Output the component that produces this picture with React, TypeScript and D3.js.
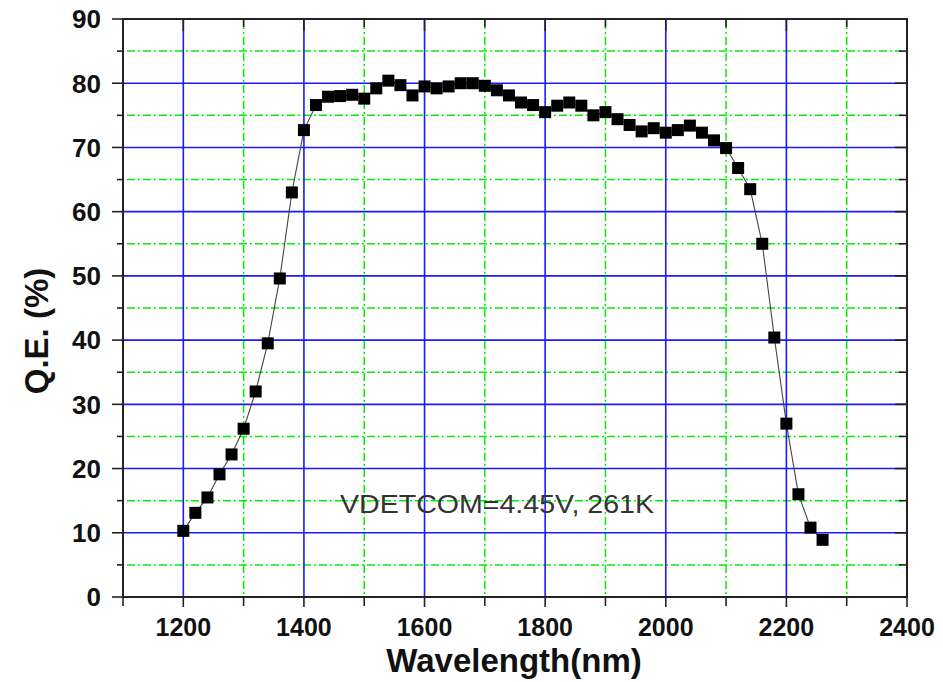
import React, { useEffect, useRef } from 'react';
import * as d3 from 'd3';

// wavelength (nm), every 20 nm
const wavelengths = [
  1200, 1220, 1240, 1260, 1280, 1300, 1320, 1340, 1360, 1380, 1400, 1420, 1440, 1460, 1480,
  1500, 1520, 1540, 1560, 1580, 1600, 1620, 1640, 1660, 1680, 1700, 1720, 1740, 1760, 1780,
  1800, 1820, 1840, 1860, 1880, 1900, 1920, 1940, 1960, 1980, 2000, 2020, 2040, 2060, 2080,
  2100, 2120, 2140, 2160, 2180, 2200, 2220, 2240, 2260,
];

// quantum efficiency (%)
const qe = [
  10.3, 13.1, 15.5, 19.1, 22.2, 26.2, 32.0, 39.5, 49.6, 63.0, 72.7, 76.6, 77.9, 78.0, 78.2,
  77.6, 79.2, 80.4, 79.7, 78.1, 79.5, 79.2, 79.5, 80.0, 80.0, 79.6, 78.9, 78.1, 77.0, 76.6,
  75.5, 76.5, 77.0, 76.5, 75.0, 75.5, 74.4, 73.5, 72.5, 73.0, 72.3, 72.7, 73.4, 72.3, 71.1,
  69.9, 66.8, 63.5, 55.0, 40.4, 27.0, 16.0, 10.8, 8.9,
];

const xMajor = [1200, 1400, 1600, 1800, 2000, 2200];
const xMinor = [1300, 1500, 1700, 1900, 2100, 2300];
const xTickLabels = [1200, 1400, 1600, 1800, 2000, 2200, 2400];
const yMajor = [10, 20, 30, 40, 50, 60, 70, 80];
const yMinor = [5, 15, 25, 35, 45, 55, 65, 75, 85];
const yTickLabels = [0, 10, 20, 30, 40, 50, 60, 70, 80, 90];

const note = 'VDETCOM=4.45V, 261K';

const W = 943;
const H = 682;

const App: React.FC = () => {
  const svgRef = useRef<SVGSVGElement>(null);

  useEffect(() => {
    if (!svgRef.current) return;
    const svg = d3.select(svgRef.current);
    svg.selectAll('*').remove();

    const left = 123, right = 907, top = 19, bottom = 597;
    const x = d3.scaleLinear().domain([1100, 2400]).range([left, right]);
    const y = d3.scaleLinear().domain([0, 90]).range([bottom, top]);
    const font = '"Liberation Sans", Arial, sans-serif';

    svg.append('rect').attr('width', W).attr('height', H).attr('fill', '#fff');

    const grid = svg.append('g');
    // green dash-dot minor grid
    grid.selectAll('.gx').data(xMinor).enter().append('line')
      .attr('x1', d => x(d)).attr('x2', d => x(d))
      .attr('y1', top + 2).attr('y2', bottom - 1)
      .attr('stroke', '#00f000').attr('stroke-width', 1.5)
      .attr('stroke-dasharray', '8,3,2,3');
    grid.selectAll('.gy').data(yMinor).enter().append('line')
      .attr('x1', left + 4).attr('x2', right - 2)
      .attr('y1', d => y(d)).attr('y2', d => y(d))
      .attr('stroke', '#00f000').attr('stroke-width', 1.5)
      .attr('stroke-dasharray', '8,3,2,3');
    // blue major grid
    grid.selectAll('.bx').data(xMajor).enter().append('line')
      .attr('x1', d => x(d)).attr('x2', d => x(d))
      .attr('y1', top + 1).attr('y2', bottom - 1)
      .attr('stroke', '#1a1aff').attr('stroke-width', 1.6);
    grid.selectAll('.by').data(yMajor).enter().append('line')
      .attr('x1', left + 1).attr('x2', right - 1)
      .attr('y1', d => y(d)).attr('y2', d => y(d))
      .attr('stroke', '#1a1aff').attr('stroke-width', 1.6);

    // ticks: out on left/bottom, in on top/right
    const axisColor = '#222';
    const ticks = svg.append('g').attr('stroke', axisColor).attr('stroke-width', 1.6);
    const allX = [1100, ...xMajor, ...xMinor, 2400];
    allX.forEach(v => {
      const major = v % 200 === 0;
      ticks.append('line').attr('x1', x(v)).attr('x2', x(v))
        .attr('y1', bottom).attr('y2', bottom + (major ? 10 : 9));
      ticks.append('line').attr('x1', x(v)).attr('x2', x(v))
        .attr('y1', top).attr('y2', top + (major ? 12 : 8));
    });
    const allY = [0, ...yMajor, ...yMinor, 90];
    allY.forEach(v => {
      const major = v % 10 === 0;
      ticks.append('line').attr('x1', left - (major ? 11 : 6)).attr('x2', left)
        .attr('y1', y(v)).attr('y2', y(v));
      ticks.append('line').attr('x1', right - (major ? 12 : 8)).attr('x2', right)
        .attr('y1', y(v)).attr('y2', y(v));
    });

    // frame
    svg.append('rect')
      .attr('x', left).attr('y', top)
      .attr('width', right - left).attr('height', bottom - top)
      .attr('fill', 'none').attr('stroke', axisColor).attr('stroke-width', 2);

    // data line + square markers
    const line = d3.line<number>()
      .x((_d, i) => x(wavelengths[i]))
      .y(d => y(d));
    svg.append('path').datum(qe)
      .attr('d', line)
      .attr('fill', 'none').attr('stroke', '#444').attr('stroke-width', 1.1);

    const ms = 12;
    svg.selectAll('.pt').data(qe).enter().append('rect')
      .attr('x', (_d, i) => x(wavelengths[i]) - ms / 2)
      .attr('y', d => y(d) - ms / 2)
      .attr('width', ms).attr('height', ms)
      .attr('fill', '#000');

    // tick labels
    svg.selectAll('.xl').data(xTickLabels).enter().append('text')
      .attr('x', d => x(d)).attr('y', 636)
      .attr('text-anchor', 'middle')
      .style('font-family', font).style('font-weight', 'bold').style('font-size', '25px')
      .style('fill', '#111')
      .text(d => d);
    svg.selectAll('.yl').data(yTickLabels).enter().append('text')
      .attr('x', 101).attr('y', d => y(d)).attr('dy', '0.36em')
      .attr('text-anchor', 'end')
      .style('font-family', font).style('font-weight', 'bold').style('font-size', '26px')
      .style('fill', '#111')
      .text(d => d);

    // axis titles
    svg.append('text')
      .attr('x', 514).attr('y', 672)
      .attr('text-anchor', 'middle')
      .style('font-family', font).style('font-weight', 'bold').style('font-size', '33px')
      .style('fill', '#111')
      .text('Wavelength(nm)');
    svg.append('text')
      .attr('transform', 'translate(48,331) rotate(-90)')
      .attr('text-anchor', 'middle')
      .style('font-family', font).style('font-weight', 'bold').style('font-size', '33px')
      .style('fill', '#111')
      .text('Q.E. (%)');

    // annotation
    svg.append('text')
      .attr('x', 340).attr('y', 513)
      .attr('textLength', 314).attr('lengthAdjust', 'spacingAndGlyphs')
      .style('font-family', font).style('font-size', '26px')
      .style('fill', '#333')
      .text(note);
  }, []);

  return (
    <svg ref={svgRef} width={W} height={H}
      style={{ position: 'absolute', left: 0, top: 0, display: 'block' }} />
  );
};

export default App;
